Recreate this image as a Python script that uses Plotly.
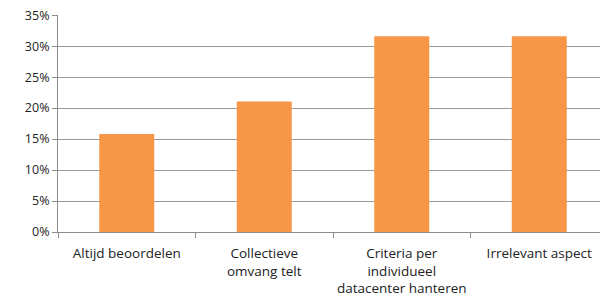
import plotly.graph_objects as go

categories = ["Altijd beoordelen", "Collectieve<br>omvang telt",
              "Criteria per<br>individueel<br>datacenter hanteren", "Irrelevant aspect"]
values = [15.8, 21.05, 31.6, 31.6]
y_ticks = [0, 5, 10, 15, 20, 25, 30, 35]
y_tick_labels = ["0%", "5%", "10%", "15%", "20%", "25%", "30%", "35%"]

fig = go.Figure(go.Bar(x=categories, y=values, marker_color="#F79646",
                       marker_line_width=0, width=0.4))

# page body adds an 8px offset, margins compensate for it
fig.update_layout(
    width=608, height=297,
    margin=dict(l=50, r=8, t=7, b=73),
    paper_bgcolor="white", plot_bgcolor="white",
    font=dict(family="Open Sans, Liberation Sans, sans-serif", size=12, color="#222"),
    showlegend=False, bargap=0.6,
)
fig.update_xaxes(showline=True, linecolor="#8c8c8c", linewidth=1, automargin=False,
                 ticks="outside", tickson="boundaries", ticklen=5, tickcolor="#8c8c8c",
                 tickfont=dict(size=13.5), ticklabelstandoff=9, tickangle=0,
                 showgrid=False, range=[-0.5, 3.5])
fig.update_yaxes(range=[0, 35.03], tickvals=y_ticks, ticktext=y_tick_labels, automargin=False,
                 ticklabeloverflow="allow",
                 showgrid=True, gridcolor="#9a9a9a", gridwidth=1,
                 showline=True, linecolor="#8c8c8c", linewidth=1,
                 ticks="outside", ticklen=5, tickcolor="#8c8c8c",
                 tickfont=dict(size=12.5), zeroline=False)

fig.write_html("out.html")
